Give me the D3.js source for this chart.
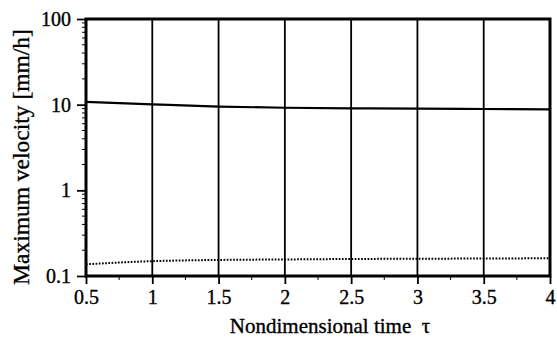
<!DOCTYPE html>
<html>
<head>
<meta charset="utf-8">
<script src="https://cdn.jsdelivr.net/npm/d3@7/dist/d3.min.js"></script>
<style>
  body { margin: 0; background: #fff; }
  svg { display: block; }
  text { font-family: "Liberation Serif", "Times New Roman", Times, "DejaVu Serif", serif; fill: #000; stroke: #000; stroke-width: 0.35px; }
</style>
</head>
<body>
<svg id="chart" width="557" height="341"></svg>
<script>
// 数据：无量纲时间与最大速度
const tau = [0.5, 1, 1.5, 2, 2.5, 3, 3.5, 4];
const velSolid = [10.8, 10.1, 9.5, 9.2, 9.05, 9.0, 8.9, 8.8];
const velDotted = [0.137, 0.149, 0.154, 0.156, 0.158, 0.159, 0.16, 0.161];
const xTicks = [0.5, 1, 1.5, 2, 2.5, 3, 3.5, 4];
const xTickLabels = ['0.5', '1', '1.5', '2', '2.5', '3', '3.5', '4'];
const yTicks = [0.1, 1, 10, 100];
const yTickLabels = ['0.1', '1', '10', '100'];

const W = 557, H = 341;
const m = { left: 86, right: 7, top: 19, bottom: 65 };
const iw = W - m.left - m.right;
const ih = H - m.top - m.bottom;
const serif = '"Liberation Serif", "Times New Roman", Times, serif';

const svg = d3.select('#chart');
const g = svg.append('g').attr('transform', `translate(${m.left},${m.top})`);

const x = d3.scaleLinear().domain([0.5, 4]).range([0, iw]);
const y = d3.scaleLog().domain([0.1, 100]).range([ih, 0]);

// 竖直网格线
g.append('g')
  .selectAll('line')
  .data(xTicks.slice(1, -1))
  .enter().append('line')
  .attr('x1', d => x(d)).attr('x2', d => x(d))
  .attr('y1', 0).attr('y2', ih)
  .attr('stroke', '#000').attr('stroke-width', 1.8);

// x 轴：主刻度 + 次刻度
const xMinor = d3.range(0.75, 4, 0.5);
g.append('g').selectAll('line').data(xMinor).enter().append('line')
  .attr('x1', d => x(d)).attr('x2', d => x(d))
  .attr('y1', ih).attr('y2', ih + 4)
  .attr('stroke', '#000').attr('stroke-width', 1);

const xAxis = d3.axisBottom(x)
  .tickValues(xTicks)
  .tickFormat((d, i) => xTickLabels[i])
  .tickSize(8)
  .tickPadding(6);

g.append('g')
  .attr('transform', `translate(0,${ih})`)
  .call(xAxis)
  .call(a => {
    a.attr('font-family', serif);
    a.select('.domain').remove();
    a.selectAll('.tick line').attr('stroke', '#000').attr('stroke-width', 1.8);
    a.selectAll('.tick text')
      .attr('font-size', '20px')
      .style('font-family', serif);
  });

// y 轴：对数刻度
const yMinor = [];
[0.1, 1, 10].forEach(base => {
  for (let k = 2; k <= 9; k++) yMinor.push(base * k);
});
g.append('g').selectAll('line').data(yMinor).enter().append('line')
  .attr('x1', -4).attr('x2', 0)
  .attr('y1', d => y(d)).attr('y2', d => y(d))
  .attr('stroke', '#000').attr('stroke-width', 1);

const yAxis = d3.axisLeft(y)
  .tickValues(yTicks)
  .tickFormat((d, i) => yTickLabels[i])
  .tickSize(9)
  .tickPadding(6);

g.append('g')
  .call(yAxis)
  .call(a => {
    a.attr('font-family', serif);
    a.select('.domain').remove();
    a.selectAll('.tick line').attr('stroke', '#000').attr('stroke-width', 1.8);
    a.selectAll('.tick text')
      .attr('font-size', '20px')
      .style('font-family', serif);
  });

// 数据线
const line = d3.line()
  .x((d, i) => x(tau[i]))
  .y(d => y(d))
  .curve(d3.curveMonotoneX);

g.append('path')
  .datum(velSolid)
  .attr('d', line)
  .attr('fill', 'none')
  .attr('stroke', '#000')
  .attr('stroke-width', 2.2);

g.append('path')
  .datum(velDotted)
  .attr('d', line)
  .attr('fill', 'none')
  .attr('stroke', '#000')
  .attr('stroke-width', 2)
  .attr('stroke-dasharray', '1.7,1.5');

// 外框
g.append('rect')
  .attr('width', iw).attr('height', ih)
  .attr('fill', 'none')
  .attr('stroke', '#000')
  .attr('stroke-width', 3);

// 轴标题
svg.append('text')
  .attr('x', 330)
  .attr('y', 333)
  .attr('text-anchor', 'middle')
  .attr('font-size', '21px')
  .attr('xml:space', 'preserve')
  .text('Nondimensional time  τ');

svg.append('text')
  .attr('transform', `translate(29,157) rotate(-90)`)
  .attr('text-anchor', 'middle')
  .attr('font-size', '23.5px')
  .text('Maximum velocity [mm/h]');
</script>
</body>
</html>
